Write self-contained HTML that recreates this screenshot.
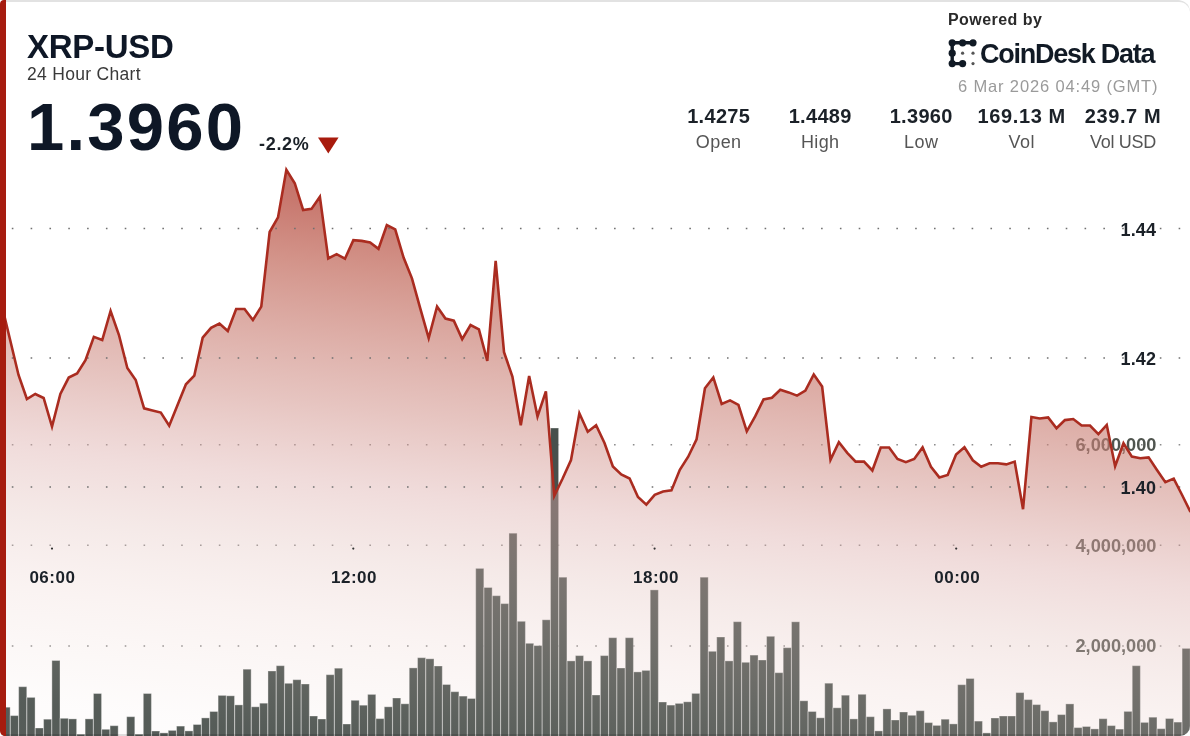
<!DOCTYPE html>
<html><head><meta charset="utf-8">
<style>
html,body{margin:0;padding:0;background:#fff;}
body{width:1190px;height:736px;overflow:hidden;position:relative;font-family:"Liberation Sans",sans-serif;}
.card{position:absolute;left:0;top:0;width:1190px;height:736px;overflow:hidden;border-radius:4px 12px 10px 5px;background:#fff;filter:blur(0.45px);}
.topb{position:absolute;left:-10px;top:0;width:1202px;height:800px;box-sizing:border-box;border-top:2px solid #e2e2e2;border-right:2px solid #e2e2e2;border-top-right-radius:13px;}
.botb{position:absolute;left:0;top:734px;width:1190px;height:2px;background:rgba(0,0,0,0.12);}
.leftb{position:absolute;left:0;top:0;width:6.3px;height:736px;background:#a61c0f;border-radius:3px 0 0 4px;}
svg.chart{position:absolute;left:0;top:0;}
.t{position:absolute;white-space:nowrap;line-height:1;}
</style></head><body>
<div class="card">
<svg class="chart" width="1190" height="736" viewBox="0 0 1190 736">
<defs>
<linearGradient id="g" x1="300" y1="0" x2="211.68" y2="736" gradientUnits="userSpaceOnUse"><stop offset="0.0000" stop-color="rgb(180, 70, 60)" stop-opacity="0.86"/><stop offset="0.2277" stop-color="rgb(183, 80, 70)" stop-opacity="0.82"/><stop offset="0.2679" stop-color="rgb(185, 84, 72)" stop-opacity="0.79"/><stop offset="0.3482" stop-color="rgb(193, 104, 90)" stop-opacity="0.714"/><stop offset="0.5358" stop-color="rgb(208, 144, 136)" stop-opacity="0.53"/><stop offset="0.6429" stop-color="rgb(220, 172, 170)" stop-opacity="0.424"/><stop offset="0.7367" stop-color="rgb(225, 191, 186)" stop-opacity="0.331"/><stop offset="0.8304" stop-color="rgb(234, 204, 199)" stop-opacity="0.239"/><stop offset="0.9376" stop-color="rgb(236, 212, 206)" stop-opacity="0.133"/><stop offset="0.9858" stop-color="rgb(240, 220, 218)" stop-opacity="0.086"/></linearGradient>
</defs>
<g stroke="#8c8c8c" stroke-width="1.6" stroke-dasharray="1.6 17.22" stroke-linecap="butt"><line x1="11.8" y1="444.8" x2="1190" y2="444.8"/><line x1="11.8" y1="545.3" x2="1190" y2="545.3"/><line x1="11.8" y1="646" x2="1190" y2="646"/></g>
<g fill="#47504c" stroke="rgba(255,255,255,0.35)" stroke-width="1">
<rect x="2.04" y="707.20" width="8.1" height="52.80"/>
<rect x="10.35" y="715.60" width="8.1" height="44.40"/>
<rect x="18.66" y="686.70" width="8.1" height="73.30"/>
<rect x="26.97" y="697.40" width="8.1" height="62.60"/>
<rect x="35.28" y="728.00" width="8.1" height="32.00"/>
<rect x="43.59" y="719.20" width="8.1" height="40.80"/>
<rect x="51.90" y="660.50" width="8.1" height="99.50"/>
<rect x="60.21" y="718.30" width="8.1" height="41.70"/>
<rect x="68.52" y="718.90" width="8.1" height="41.10"/>
<rect x="76.83" y="734.20" width="8.1" height="25.80"/>
<rect x="85.14" y="718.90" width="8.1" height="41.10"/>
<rect x="93.45" y="693.50" width="8.1" height="66.50"/>
<rect x="101.76" y="729.30" width="8.1" height="30.70"/>
<rect x="110.07" y="725.70" width="8.1" height="34.30"/>
<rect x="126.69" y="716.70" width="8.1" height="43.30"/>
<rect x="135.00" y="734.20" width="8.1" height="25.80"/>
<rect x="143.31" y="693.50" width="8.1" height="66.50"/>
<rect x="151.62" y="731.00" width="8.1" height="29.00"/>
<rect x="159.93" y="732.90" width="8.1" height="27.10"/>
<rect x="168.24" y="730.40" width="8.1" height="29.60"/>
<rect x="176.55" y="726.10" width="8.1" height="33.90"/>
<rect x="184.86" y="730.90" width="8.1" height="29.10"/>
<rect x="193.18" y="724.50" width="8.1" height="35.50"/>
<rect x="201.49" y="717.90" width="8.1" height="42.10"/>
<rect x="209.80" y="711.50" width="8.1" height="48.50"/>
<rect x="218.11" y="695.40" width="8.1" height="64.60"/>
<rect x="226.42" y="695.80" width="8.1" height="64.20"/>
<rect x="234.73" y="704.90" width="8.1" height="55.10"/>
<rect x="243.04" y="669.20" width="8.1" height="90.80"/>
<rect x="251.35" y="706.80" width="8.1" height="53.20"/>
<rect x="259.66" y="703.20" width="8.1" height="56.80"/>
<rect x="267.97" y="671.00" width="8.1" height="89.00"/>
<rect x="276.28" y="665.70" width="8.1" height="94.30"/>
<rect x="284.59" y="683.30" width="8.1" height="76.70"/>
<rect x="292.90" y="679.70" width="8.1" height="80.30"/>
<rect x="301.21" y="684.00" width="8.1" height="76.00"/>
<rect x="309.52" y="716.00" width="8.1" height="44.00"/>
<rect x="317.83" y="719.00" width="8.1" height="41.00"/>
<rect x="326.14" y="674.70" width="8.1" height="85.30"/>
<rect x="334.45" y="668.20" width="8.1" height="91.80"/>
<rect x="342.76" y="724.00" width="8.1" height="36.00"/>
<rect x="351.07" y="700.30" width="8.1" height="59.70"/>
<rect x="359.38" y="705.20" width="8.1" height="54.80"/>
<rect x="367.69" y="694.40" width="8.1" height="65.60"/>
<rect x="376.00" y="718.60" width="8.1" height="41.40"/>
<rect x="384.31" y="706.80" width="8.1" height="53.20"/>
<rect x="392.62" y="698.00" width="8.1" height="62.00"/>
<rect x="400.93" y="703.80" width="8.1" height="56.20"/>
<rect x="409.24" y="667.90" width="8.1" height="92.10"/>
<rect x="417.55" y="657.70" width="8.1" height="102.30"/>
<rect x="425.86" y="658.80" width="8.1" height="101.20"/>
<rect x="434.17" y="666.00" width="8.1" height="94.00"/>
<rect x="442.48" y="684.50" width="8.1" height="75.50"/>
<rect x="450.79" y="691.70" width="8.1" height="68.30"/>
<rect x="459.10" y="696.10" width="8.1" height="63.90"/>
<rect x="467.41" y="698.50" width="8.1" height="61.50"/>
<rect x="475.73" y="568.40" width="8.1" height="191.60"/>
<rect x="484.04" y="587.50" width="8.1" height="172.50"/>
<rect x="492.35" y="595.70" width="8.1" height="164.30"/>
<rect x="500.66" y="603.60" width="8.1" height="156.40"/>
<rect x="508.97" y="533.20" width="8.1" height="226.80"/>
<rect x="517.28" y="621.30" width="8.1" height="138.70"/>
<rect x="525.59" y="643.30" width="8.1" height="116.70"/>
<rect x="533.90" y="645.60" width="8.1" height="114.40"/>
<rect x="542.21" y="619.80" width="8.1" height="140.20"/>
<rect x="550.52" y="428.00" width="8.1" height="332.00"/>
<rect x="558.83" y="577.20" width="8.1" height="182.80"/>
<rect x="567.14" y="660.90" width="8.1" height="99.10"/>
<rect x="575.45" y="655.60" width="8.1" height="104.40"/>
<rect x="583.76" y="660.90" width="8.1" height="99.10"/>
<rect x="592.07" y="695.00" width="8.1" height="65.00"/>
<rect x="600.38" y="655.60" width="8.1" height="104.40"/>
<rect x="608.69" y="637.70" width="8.1" height="122.30"/>
<rect x="617.00" y="668.00" width="8.1" height="92.00"/>
<rect x="625.31" y="637.70" width="8.1" height="122.30"/>
<rect x="633.62" y="671.90" width="8.1" height="88.10"/>
<rect x="641.93" y="670.40" width="8.1" height="89.60"/>
<rect x="650.24" y="589.90" width="8.1" height="170.10"/>
<rect x="658.55" y="702.00" width="8.1" height="58.00"/>
<rect x="666.86" y="705.10" width="8.1" height="54.90"/>
<rect x="675.17" y="703.40" width="8.1" height="56.60"/>
<rect x="683.48" y="701.80" width="8.1" height="58.20"/>
<rect x="691.79" y="693.40" width="8.1" height="66.60"/>
<rect x="700.10" y="577.20" width="8.1" height="182.80"/>
<rect x="708.41" y="651.30" width="8.1" height="108.70"/>
<rect x="716.72" y="637.00" width="8.1" height="123.00"/>
<rect x="725.03" y="660.90" width="8.1" height="99.10"/>
<rect x="733.34" y="621.70" width="8.1" height="138.30"/>
<rect x="741.65" y="662.30" width="8.1" height="97.70"/>
<rect x="749.97" y="655.10" width="8.1" height="104.90"/>
<rect x="758.28" y="660.00" width="8.1" height="100.00"/>
<rect x="766.59" y="636.30" width="8.1" height="123.70"/>
<rect x="774.90" y="672.70" width="8.1" height="87.30"/>
<rect x="783.21" y="647.70" width="8.1" height="112.30"/>
<rect x="791.52" y="621.80" width="8.1" height="138.20"/>
<rect x="799.83" y="700.80" width="8.1" height="59.20"/>
<rect x="808.14" y="711.50" width="8.1" height="48.50"/>
<rect x="816.45" y="717.80" width="8.1" height="42.20"/>
<rect x="824.76" y="683.20" width="8.1" height="76.80"/>
<rect x="833.07" y="707.80" width="8.1" height="52.20"/>
<rect x="841.38" y="695.20" width="8.1" height="64.80"/>
<rect x="849.69" y="718.90" width="8.1" height="41.10"/>
<rect x="858.00" y="694.30" width="8.1" height="65.70"/>
<rect x="866.31" y="716.70" width="8.1" height="43.30"/>
<rect x="874.62" y="730.90" width="8.1" height="29.10"/>
<rect x="882.93" y="708.90" width="8.1" height="51.10"/>
<rect x="891.24" y="720.00" width="8.1" height="40.00"/>
<rect x="899.55" y="712.00" width="8.1" height="48.00"/>
<rect x="907.86" y="715.30" width="8.1" height="44.70"/>
<rect x="916.17" y="710.70" width="8.1" height="49.30"/>
<rect x="924.48" y="722.60" width="8.1" height="37.40"/>
<rect x="932.79" y="725.40" width="8.1" height="34.60"/>
<rect x="941.10" y="719.20" width="8.1" height="40.80"/>
<rect x="949.41" y="723.90" width="8.1" height="36.10"/>
<rect x="957.72" y="684.70" width="8.1" height="75.30"/>
<rect x="966.03" y="678.50" width="8.1" height="81.50"/>
<rect x="974.34" y="721.10" width="8.1" height="38.90"/>
<rect x="982.65" y="732.90" width="8.1" height="27.10"/>
<rect x="990.96" y="718.00" width="8.1" height="42.00"/>
<rect x="999.27" y="716.00" width="8.1" height="44.00"/>
<rect x="1007.58" y="716.00" width="8.1" height="44.00"/>
<rect x="1015.89" y="692.60" width="8.1" height="67.40"/>
<rect x="1024.21" y="699.60" width="8.1" height="60.40"/>
<rect x="1032.52" y="704.60" width="8.1" height="55.40"/>
<rect x="1040.83" y="710.70" width="8.1" height="49.30"/>
<rect x="1049.14" y="721.90" width="8.1" height="38.10"/>
<rect x="1057.45" y="714.60" width="8.1" height="45.40"/>
<rect x="1065.76" y="703.90" width="8.1" height="56.10"/>
<rect x="1074.07" y="727.60" width="8.1" height="32.40"/>
<rect x="1082.38" y="726.50" width="8.1" height="33.50"/>
<rect x="1090.69" y="728.90" width="8.1" height="31.10"/>
<rect x="1099.00" y="718.70" width="8.1" height="41.30"/>
<rect x="1107.31" y="725.60" width="8.1" height="34.40"/>
<rect x="1115.62" y="729.10" width="8.1" height="30.90"/>
<rect x="1123.93" y="711.40" width="8.1" height="48.60"/>
<rect x="1132.24" y="665.70" width="8.1" height="94.30"/>
<rect x="1140.55" y="722.40" width="8.1" height="37.60"/>
<rect x="1148.86" y="717.20" width="8.1" height="42.80"/>
<rect x="1157.17" y="728.70" width="8.1" height="31.30"/>
<rect x="1165.48" y="718.50" width="8.1" height="41.50"/>
<rect x="1173.79" y="722.10" width="8.1" height="37.90"/>
<rect x="1182.10" y="648.40" width="8.1" height="111.60"/>
</g>
<g font-family="Liberation Sans" font-weight="bold" font-size="18.5" fill="#50554f" text-anchor="end">
<text x="1156.5" y="451" textLength="81" lengthAdjust="spacingAndGlyphs">6,000,000</text>
<text x="1156.5" y="551.5" textLength="81" lengthAdjust="spacingAndGlyphs">4,000,000</text>
<text x="1156.5" y="652" textLength="81" lengthAdjust="spacingAndGlyphs">2,000,000</text>
</g>
<path d="M1.77,305.00 L10.14,340.00 L18.52,375.00 L26.89,399.00 L35.26,394.00 L43.63,398.00 L52.00,426.50 L60.37,394.00 L68.74,377.60 L77.11,373.50 L85.48,360.30 L93.86,336.90 L102.23,340.00 L110.60,311.00 L118.97,335.00 L127.34,368.00 L135.71,380.00 L144.08,408.30 L152.45,410.40 L160.82,412.60 L169.19,425.70 L177.56,405.00 L185.94,384.30 L194.31,375.60 L202.68,337.60 L211.05,327.80 L219.42,323.50 L227.79,331.00 L236.16,309.00 L244.53,309.00 L252.90,320.00 L261.27,306.60 L269.65,232.00 L278.02,217.40 L286.39,169.80 L294.76,183.20 L303.13,210.00 L311.50,208.90 L319.87,196.70 L328.24,258.50 L336.61,254.20 L344.99,258.70 L353.36,240.20 L361.73,240.90 L370.10,242.40 L378.47,248.90 L386.84,225.00 L395.21,229.30 L403.58,257.60 L411.95,278.30 L420.32,308.70 L428.69,338.00 L437.07,306.50 L445.44,318.50 L453.81,320.70 L462.18,339.10 L470.55,325.00 L478.92,329.30 L487.29,360.90 L495.66,260.90 L504.03,352.20 L512.40,376.50 L520.78,425.20 L529.15,376.00 L537.52,416.50 L545.89,391.40 L554.26,495.90 L562.63,478.50 L571.00,460.00 L579.37,413.30 L587.74,431.70 L596.12,425.20 L604.49,443.00 L612.86,466.50 L621.23,474.50 L629.60,478.50 L637.97,497.00 L646.34,504.60 L654.71,494.80 L663.08,491.50 L671.45,490.40 L679.83,469.80 L688.20,456.70 L696.57,439.30 L704.94,388.20 L713.31,377.40 L721.68,404.00 L730.05,400.40 L738.42,404.80 L746.79,431.30 L755.16,416.30 L763.54,399.50 L771.91,397.70 L780.28,389.80 L788.65,392.40 L797.02,395.60 L805.39,390.60 L813.76,374.40 L822.13,386.50 L830.50,459.90 L838.87,442.20 L847.25,452.80 L855.62,461.60 L863.99,461.60 L872.36,470.50 L880.73,447.50 L889.10,447.50 L897.47,459.00 L905.84,462.20 L914.21,459.00 L922.58,447.40 L930.96,466.80 L939.33,477.40 L947.70,475.00 L956.07,454.60 L964.44,447.30 L972.81,460.30 L981.18,466.80 L989.55,463.30 L997.92,463.30 L1006.29,464.40 L1014.67,461.60 L1023.04,509.20 L1031.41,417.00 L1039.78,418.50 L1048.15,417.40 L1056.52,428.30 L1064.89,420.10 L1073.26,419.00 L1081.63,425.50 L1090.00,425.50 L1098.38,434.20 L1106.75,425.00 L1115.12,466.30 L1123.49,443.30 L1131.86,456.60 L1140.23,458.30 L1148.60,457.40 L1156.97,470.00 L1165.34,482.20 L1173.71,478.60 L1182.09,495.00 L1190.46,512.00 L1190.46,760 L1.77,760 Z" fill="url(#g)"/>
<g stroke="#707070" stroke-width="1.7" stroke-dasharray="1.6 17.22"><line x1="11.8" y1="228.5" x2="1190" y2="228.5"/><line x1="11.8" y1="358" x2="1190" y2="358"/><line x1="11.8" y1="487" x2="1190" y2="487"/></g>
<g fill="#333"><circle cx="52.0" cy="548.6" r="1.1"/><circle cx="353.3" cy="548.6" r="1.1"/><circle cx="654.6" cy="548.6" r="1.1"/><circle cx="956.2" cy="548.6" r="1.1"/></g>
<path d="M1.77,305.00 L10.14,340.00 L18.52,375.00 L26.89,399.00 L35.26,394.00 L43.63,398.00 L52.00,426.50 L60.37,394.00 L68.74,377.60 L77.11,373.50 L85.48,360.30 L93.86,336.90 L102.23,340.00 L110.60,311.00 L118.97,335.00 L127.34,368.00 L135.71,380.00 L144.08,408.30 L152.45,410.40 L160.82,412.60 L169.19,425.70 L177.56,405.00 L185.94,384.30 L194.31,375.60 L202.68,337.60 L211.05,327.80 L219.42,323.50 L227.79,331.00 L236.16,309.00 L244.53,309.00 L252.90,320.00 L261.27,306.60 L269.65,232.00 L278.02,217.40 L286.39,169.80 L294.76,183.20 L303.13,210.00 L311.50,208.90 L319.87,196.70 L328.24,258.50 L336.61,254.20 L344.99,258.70 L353.36,240.20 L361.73,240.90 L370.10,242.40 L378.47,248.90 L386.84,225.00 L395.21,229.30 L403.58,257.60 L411.95,278.30 L420.32,308.70 L428.69,338.00 L437.07,306.50 L445.44,318.50 L453.81,320.70 L462.18,339.10 L470.55,325.00 L478.92,329.30 L487.29,360.90 L495.66,260.90 L504.03,352.20 L512.40,376.50 L520.78,425.20 L529.15,376.00 L537.52,416.50 L545.89,391.40 L554.26,495.90 L562.63,478.50 L571.00,460.00 L579.37,413.30 L587.74,431.70 L596.12,425.20 L604.49,443.00 L612.86,466.50 L621.23,474.50 L629.60,478.50 L637.97,497.00 L646.34,504.60 L654.71,494.80 L663.08,491.50 L671.45,490.40 L679.83,469.80 L688.20,456.70 L696.57,439.30 L704.94,388.20 L713.31,377.40 L721.68,404.00 L730.05,400.40 L738.42,404.80 L746.79,431.30 L755.16,416.30 L763.54,399.50 L771.91,397.70 L780.28,389.80 L788.65,392.40 L797.02,395.60 L805.39,390.60 L813.76,374.40 L822.13,386.50 L830.50,459.90 L838.87,442.20 L847.25,452.80 L855.62,461.60 L863.99,461.60 L872.36,470.50 L880.73,447.50 L889.10,447.50 L897.47,459.00 L905.84,462.20 L914.21,459.00 L922.58,447.40 L930.96,466.80 L939.33,477.40 L947.70,475.00 L956.07,454.60 L964.44,447.30 L972.81,460.30 L981.18,466.80 L989.55,463.30 L997.92,463.30 L1006.29,464.40 L1014.67,461.60 L1023.04,509.20 L1031.41,417.00 L1039.78,418.50 L1048.15,417.40 L1056.52,428.30 L1064.89,420.10 L1073.26,419.00 L1081.63,425.50 L1090.00,425.50 L1098.38,434.20 L1106.75,425.00 L1115.12,466.30 L1123.49,443.30 L1131.86,456.60 L1140.23,458.30 L1148.60,457.40 L1156.97,470.00 L1165.34,482.20 L1173.71,478.60 L1182.09,495.00 L1190.46,512.00" fill="none" stroke="#aa2c20" stroke-width="2.6" stroke-linejoin="miter" stroke-miterlimit="4"/>
<g font-family="Liberation Sans" font-weight="bold" font-size="18" fill="#1b2128" text-anchor="end" letter-spacing="0.2">
<text x="1156.3" y="235.5">1.44</text>
<text x="1156.3" y="365">1.42</text>
<text x="1156.3" y="494">1.40</text>
</g>
<g font-family="Liberation Sans" font-weight="bold" font-size="17" fill="#1b2128" text-anchor="middle" letter-spacing="0.5">
<text x="52.4" y="583">06:00</text>
<text x="354" y="583">12:00</text>
<text x="656" y="583">18:00</text>
<text x="957.3" y="583">00:00</text>
</g>
</svg>
<div class="topb"></div>
<div class="botb"></div>
<div class="leftb"></div>

<svg style="position:absolute;left:318px;top:137px" width="21" height="17"><path d="M0,0.5 L20.6,0.5 L10.3,16.5 Z" fill="#a81b0d"/></svg>
<svg style="position:absolute;left:946px;top:38px" width="32" height="32" viewBox="0 0 32 32">
<g fill="#111a25" stroke="#111a25">
<circle cx="6.2" cy="4.8" r="3.6" stroke="none"/><circle cx="16.6" cy="4.8" r="3.6" stroke="none"/><circle cx="27" cy="4.8" r="3.6" stroke="none"/>
<circle cx="6.2" cy="15.2" r="3.6" stroke="none"/><circle cx="6.2" cy="25.6" r="3.6" stroke="none"/><circle cx="16.6" cy="25.6" r="3.6" stroke="none"/>
<path d="M6.2,4.8 L27,4.8 M6.2,4.8 L6.2,25.6 L16.6,25.6" stroke-width="3.4" fill="none"/>
<circle cx="16.6" cy="15.2" r="1.6" stroke="none" fill="#555"/><circle cx="27" cy="15.2" r="1.6" stroke="none" fill="#555"/><circle cx="27" cy="25.6" r="1.6" stroke="none" fill="#555"/>
</g></svg>
<div class="t" style="left:27px;top:30px;font-size:33px;font-weight:bold;color:#0e1726;letter-spacing:-0.3px;">XRP-USD</div>
<div class="t" style="left:27px;top:65.5px;font-size:17.5px;font-weight:normal;color:#3a3a3a;letter-spacing:0.3px;">24 Hour Chart</div>
<div class="t" style="left:27px;top:93px;font-size:67px;font-weight:bold;color:#0e1726;letter-spacing:2.2px;">1.3960</div>
<div class="t" style="left:259px;top:134.5px;font-size:18px;font-weight:bold;color:#1b2128;letter-spacing:0.7px;">-2.2%</div>
<div class="t" style="left:948px;top:12px;font-size:16px;font-weight:bold;color:#2a2a2a;letter-spacing:0.45px;">Powered by</div>
<div class="t" style="left:980px;top:40.5px;font-size:27px;font-weight:bold;color:#111a25;letter-spacing:-1.25px;">CoinDesk Data</div>
<div class="t" style="left:958px;top:78px;font-size:16.5px;font-weight:normal;color:#9a9a9a;letter-spacing:0.85px;">6 Mar 2026 04:49 (GMT)</div>
<div class="t" style="left:618.7px;top:105.5px;width:200px;text-align:center;font-size:20px;font-weight:bold;color:#1b2128;letter-spacing:0.3px;">1.4275</div>
<div class="t" style="left:618.7px;top:133px;width:200px;text-align:center;font-size:18px;font-weight:normal;color:#555;letter-spacing:0.4px;">Open</div>
<div class="t" style="left:720.2px;top:105.5px;width:200px;text-align:center;font-size:20px;font-weight:bold;color:#1b2128;letter-spacing:0.3px;">1.4489</div>
<div class="t" style="left:720.2px;top:133px;width:200px;text-align:center;font-size:18px;font-weight:normal;color:#555;letter-spacing:0.4px;">High</div>
<div class="t" style="left:821.2px;top:105.5px;width:200px;text-align:center;font-size:20px;font-weight:bold;color:#1b2128;letter-spacing:0.3px;">1.3960</div>
<div class="t" style="left:821.2px;top:133px;width:200px;text-align:center;font-size:18px;font-weight:normal;color:#555;letter-spacing:0.4px;">Low</div>
<div class="t" style="left:921.7px;top:105.5px;width:200px;text-align:center;font-size:20px;font-weight:bold;color:#1b2128;letter-spacing:0.6px;">169.13 M</div>
<div class="t" style="left:921.7px;top:133px;width:200px;text-align:center;font-size:18px;font-weight:normal;color:#555;letter-spacing:0.4px;">Vol</div>
<div class="t" style="left:1023px;top:105.5px;width:200px;text-align:center;font-size:20px;font-weight:bold;color:#1b2128;letter-spacing:0.6px;">239.7 M</div>
<div class="t" style="left:1023px;top:133px;width:200px;text-align:center;font-size:18px;font-weight:normal;color:#555;letter-spacing:-0.3px;">Vol USD</div>
</div>
</body></html>
